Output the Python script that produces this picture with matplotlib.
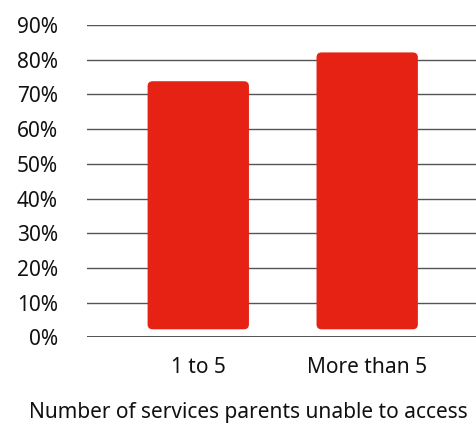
import matplotlib
matplotlib.use("Agg")
import matplotlib.pyplot as plt
from matplotlib.patches import FancyBboxPatch
from matplotlib.ticker import FuncFormatter

plt.rcParams['font.family'] = ['Noto Sans', 'DejaVu Sans']

categories = ["1 to 5", "More than 5"]
values = [73.8, 82.1]
yticks = [0, 10, 20, 30, 40, 50, 60, 70, 80, 90]
xlabel = "Number of services parents unable to access"

bar_color = "#E62215"
bar_width = 0.6
base_gap = 2.3  # bars float a little above the 0% line

fig = plt.figure(figsize=(4.77, 4.24), dpi=100)
ax = fig.add_axes([0.183, 0.2045, 0.817, 0.7365])

ax.set_xlim(-0.657, 1.65)
ax.set_ylim(0, 90)

for y in yticks:
    ax.axhline(y, color="#222222" if y == 0 else "#555555", lw=1.1 if y == 0 else 1.0, zorder=1)

# rounded bars
px_x = 169.0   # pixels per category unit
px_y = 3.47    # pixels per percent
for i, v in enumerate(values):
    p = FancyBboxPatch((i - bar_width / 2, base_gap), bar_width, v - base_gap,
                       boxstyle="round,pad=0,rounding_size=0.03",
                       mutation_aspect=px_x / px_y,
                       facecolor=bar_color, edgecolor="none", zorder=3)
    ax.add_patch(p)

ax.set_yticks(yticks)
ax.yaxis.set_major_formatter(FuncFormatter(lambda v, pos: f"{v:.0f}%"))
ax.set_xticks(range(len(categories)))
ax.set_xticklabels(categories)
ax.tick_params(axis="y", length=0, pad=21, labelsize=15, colors="#111111")
ax.tick_params(axis="x", length=0, pad=14, labelsize=15, colors="#111111")

for s in ax.spines.values():
    s.set_visible(False)

fig.text(0.52, 0.026, xlabel, ha="center", va="center", fontsize=15, color="#111111")

fig.savefig("out.png", dpi=100)
